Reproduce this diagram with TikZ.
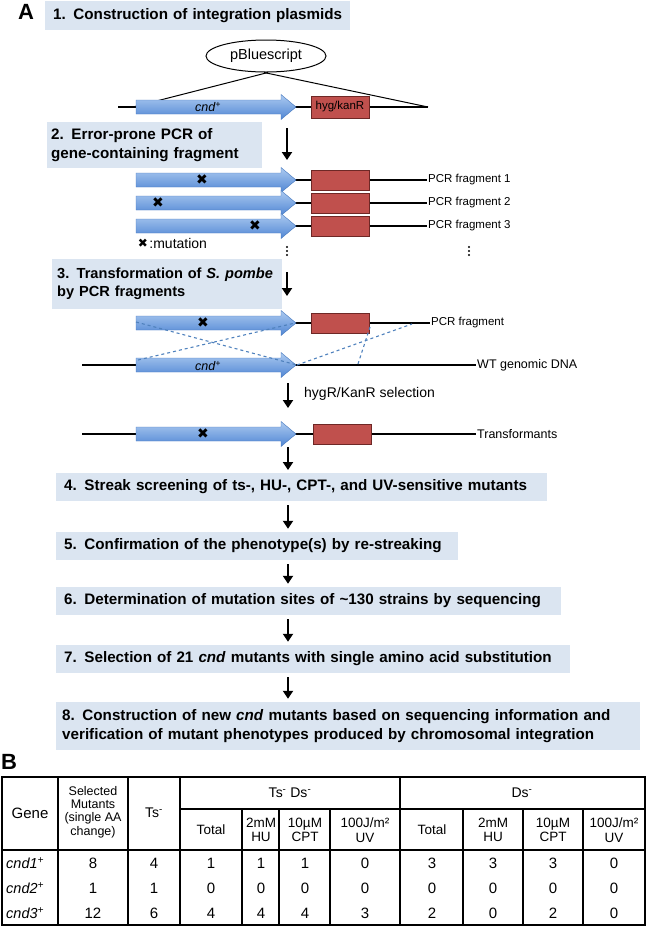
\documentclass[tikz,border=0pt]{standalone}
\usepackage{fontspec}
\setmainfont{Liberation Sans}
\newfontfamily\dingfont{DejaVu Sans}
\usetikzlibrary{arrows.meta,shapes.geometric}

\definecolor{stepfill}{RGB}{219,229,241}
\definecolor{genetop}{RGB}{172,202,240}
\definecolor{genebot}{RGB}{80,134,212}
\definecolor{geneline}{RGB}{70,120,190}
\definecolor{hygfill}{RGB}{192,80,77}
\definecolor{hygline}{RGB}{110,40,38}
\definecolor{dashblue}{RGB}{79,129,189}

\tikzset{
  stepbox/.style={fill=stepfill, anchor=west, inner xsep=8pt, inner ysep=0pt, align=left,
    font=\fontsize{15.2}{18.5}\selectfont\bfseries},
  panel/.style={inner sep=0pt, font=\fontsize{22}{22}\selectfont\bfseries},
  plas/.style={line width=1pt},
  dna/.style={line width=1.8pt},
  gene/.style={top color=genetop, bottom color=genebot, draw=geneline, line width=0.4pt},
  gtext/.style={inner sep=0pt, font=\fontsize{12.5}{13}\selectfont\itshape},
  hygbox/.style={draw=hygline, fill=hygfill, line width=0.8pt, minimum width=58pt,
    minimum height=20pt, inner sep=0pt, font=\fontsize{11.5}{12}\selectfont},
  mut/.style={inner sep=0pt, font=\dingfont\fontsize{14}{14}\selectfont},
  lbl/.style={anchor=west, inner sep=1pt, font=\fontsize{11.5}{13}\selectfont},
  down/.style={-{Triangle[length=8pt,width=10pt]}, line width=2.6pt},
  recomb/.style={dashed, dashblue, line width=1.1pt},
  tab/.style={line width=1.2pt},
  cell/.style={inner sep=0pt, align=center, font=\fontsize{15}{17}\selectfont},
  head/.style={inner sep=0pt, align=center, font=\fontsize{12.5}{13.4}\selectfont}
}

\newcommand{\cndarrow}[1]{%
  \shade[gene] (136,#1-7) -- (281,#1-7) -- (281,#1-12.5) -- (296,#1)
    -- (281,#1+12.5) -- (281,#1+7) -- (136,#1+7) -- cycle;}

\begin{document}
\begin{tikzpicture}[x=1pt,y=-1pt]
\useasboundingbox (0,0) rectangle (649,927);

\node[panel] (pa) at (26,12) {A};
\node[stepbox, text width=289pt, minimum height=29pt] (s1) at (45,15.5)
  {1. Construction of integration plasmids};

\node[draw, ellipse, line width=1pt, minimum width=120pt, minimum height=32pt,
  font=\fontsize{14.5}{15}\selectfont] (pbs) at (266,56) {pBluescript};
\coordinate (d1l) at (118,107);
\coordinate (tl) at (133,107);
\coordinate (tr) at (428,107);
\draw[plas] ([xshift=2pt]pbs.south) -- (tl);
\draw[plas] ([xshift=-2pt]pbs.south) -- (tr);
\draw[dna] (d1l) -- (tr);
\cndarrow{107}
\node[gtext] (g1) at (208,107) {cnd\textsuperscript{+}};
\node[hygbox, minimum height=22pt] (h1) at (340,107) {hyg/kanR};

\node[stepbox, inner xsep=4pt, text width=207pt, minimum height=46pt] (s2) at (47,145)
  {2. Error-prone PCR of\\gene-containing fragment};
\coordinate (a1s) at (287,128);
\coordinate (a1e) at (287,160);
\draw[down] (a1s) -- (a1e);

\foreach \y/\m/\n in {180/202/1, 203/158/2, 226/255/3}{
  \node[lbl] (p\n) at (427,\y) {PCR fragment \n};
  \coordinate (f\n) at (285,\y);
  \draw[dna] (f\n) -- (p\n.west);
  \cndarrow{\y}
  \node[hygbox] (k\n) at (340,\y) {};
  \node[mut] (m\n) at (\m,\y) {✖};
}
\node[mut, font=\dingfont\fontsize{12}{12}\selectfont] (mk) at (143,243) {✖};
\node[lbl, font=\fontsize{14}{15}\selectfont] (mt) at (mk.east) {:mutation};
\foreach \x in {287,469}
  \foreach \d in {-4,0,4}
    \fill (\x,251+\d) circle (1.1pt);

\node[stepbox, inner xsep=5pt, text width=220pt, minimum height=50pt,
  font=\fontsize{14.6}{18.5}\selectfont\bfseries] (s3) at (52,284)
  {\mbox{3. Transformation of \textit{S. pombe}}\\by PCR fragments};
\coordinate (a2s) at (287,272);
\coordinate (a2e) at (287,296);
\draw[down] (a2s) -- (a2e);

\node[lbl] (pf) at (430,323) {PCR fragment};
\coordinate (fq) at (285,323);
\draw[dna] (fq) -- (pf.west);
\cndarrow{323}
\node[hygbox] (kq) at (340,323) {};
\node[mut] (mq) at (203,323) {✖};

\node[lbl, font=\fontsize{12.5}{14}\selectfont] (wt) at (476,365) {WT genomic DNA};
\coordinate (wl) at (82,365);
\draw[dna] (wl) -- (wt.west);
\cndarrow{365}
\node[gtext] (g2) at (208,366) {cnd\textsuperscript{+}};

\coordinate (x1) at (136,322);
\coordinate (x2) at (297,365);
\coordinate (x3) at (138,360);
\coordinate (x4) at (295,323);
\coordinate (x5) at (412,324);
\coordinate (x6) at (358,364);
\coordinate (x7) at (370,327);
\draw[recomb] (x1) -- (x2);
\draw[recomb] (x3) -- (x4);
\draw[recomb] (x2) -- (x5);
\draw[recomb] (x6) -- (x7);

\coordinate (a3s) at (288,383);
\coordinate (a3e) at (288,408);
\draw[down] (a3s) -- (a3e);
\node[lbl, font=\fontsize{14}{15}\selectfont] (sel) at (303,394) {hygR/KanR selection};

\node[lbl, font=\fontsize{12.5}{14}\selectfont] (tf) at (476,434) {Transformants};
\coordinate (tl2) at (82,434);
\draw[dna] (tl2) -- (tf.west);
\cndarrow{434}
\node[hygbox] (kt) at (342,434) {};
\node[mut] (mt2) at (203,434) {✖};
\coordinate (a4s) at (288,447);
\coordinate (a4e) at (288,470);
\draw[down] (a4s) -- (a4e);

\node[stepbox, text width=475pt, minimum height=28pt] (s4) at (56,487)
  {4. Streak screening of ts-, HU-, CPT-, and UV-sensitive mutants};
\node[stepbox, text width=386pt, minimum height=28pt] (s5) at (56,546)
  {5. Confirmation of the phenotype(s) by re-streaking};
\node[stepbox, text width=489pt, minimum height=28pt] (s6) at (56,601)
  {6. Determination of mutation sites of \textasciitilde130 strains by sequencing};
\node[stepbox, text width=498pt, minimum height=28pt] (s7) at (56,659)
  {7. Selection of 21 \textit{cnd} mutants with single amino acid substitution};
\node[stepbox, inner xsep=6pt, text width=572pt, minimum height=48pt] (s8) at (56,726)
  {8. Construction of new \textit{cnd} mutants based on sequencing information and\\
   verification of mutant phenotypes produced by chromosomal integration};
\coordinate (ax) at (288,0);
\foreach \a/\b in {s4/s5, s5/s6, s6/s7, s7/s8}
  \draw[down, shorten <=4pt, shorten >=3pt] (\a.south -| ax) -- (\b.north -| ax);

\node[panel] (pb) at (9,762) {B};
\draw[tab] (2,777) rectangle (645,925);
\draw[tab] (2,850) -- (645,850);
\draw[tab] (180,809) -- (645,809);
\foreach \x in {58,128,180,400}
  \draw[tab] (\x,777) -- (\x,925);
\foreach \x in {242,279,330,463,523,583}
  \draw[tab] (\x,809) -- (\x,925);

\node[cell] (hg) at (30,813) {Gene};
\node[head] (hs) at (93,812) {Selected\\Mutants\\(single AA\\change)};
\node[cell, font=\fontsize{14}{16}\selectfont] (ht) at (154,813) {Ts\textsuperscript{-}};
\node[cell, font=\fontsize{14}{16}\selectfont] (htd) at (290,793) {Ts\textsuperscript{-} Ds\textsuperscript{-}};
\node[cell, font=\fontsize{14}{16}\selectfont] (hd) at (522,793) {Ds\textsuperscript{-}};
\foreach \x/\t in {211/Total, 261/{2mM\\HU}, 305/{10µM\\CPT}, 365/{100J/m²\\UV},
                   432/Total, 493/{2mM\\HU}, 553/{10µM\\CPT}, 614/{100J/m²\\UV}}
  \node[head, font=\fontsize{13.5}{14.5}\selectfont] (h\x) at (\x,830) {\t};

\foreach \n/\y in {1/863, 2/888, 3/913}
  \node[cell, anchor=west, font=\fontsize{14.5}{16}\selectfont\itshape] (c\n) at (6,\y)
    {cnd\n\textsuperscript{+}};
\foreach \x/\a/\b/\c in {93/8/1/12, 154/4/1/6, 211/1/0/4, 261/1/0/4, 305/1/0/4,
                         365/0/0/3, 432/3/0/2, 493/3/0/0, 553/3/0/2, 614/0/0/0}{
  \node[cell] (u\x) at (\x,863) {\a};
  \node[cell] (v\x) at (\x,888) {\b};
  \node[cell] (w\x) at (\x,913) {\c};
}
\end{tikzpicture}
\end{document}
